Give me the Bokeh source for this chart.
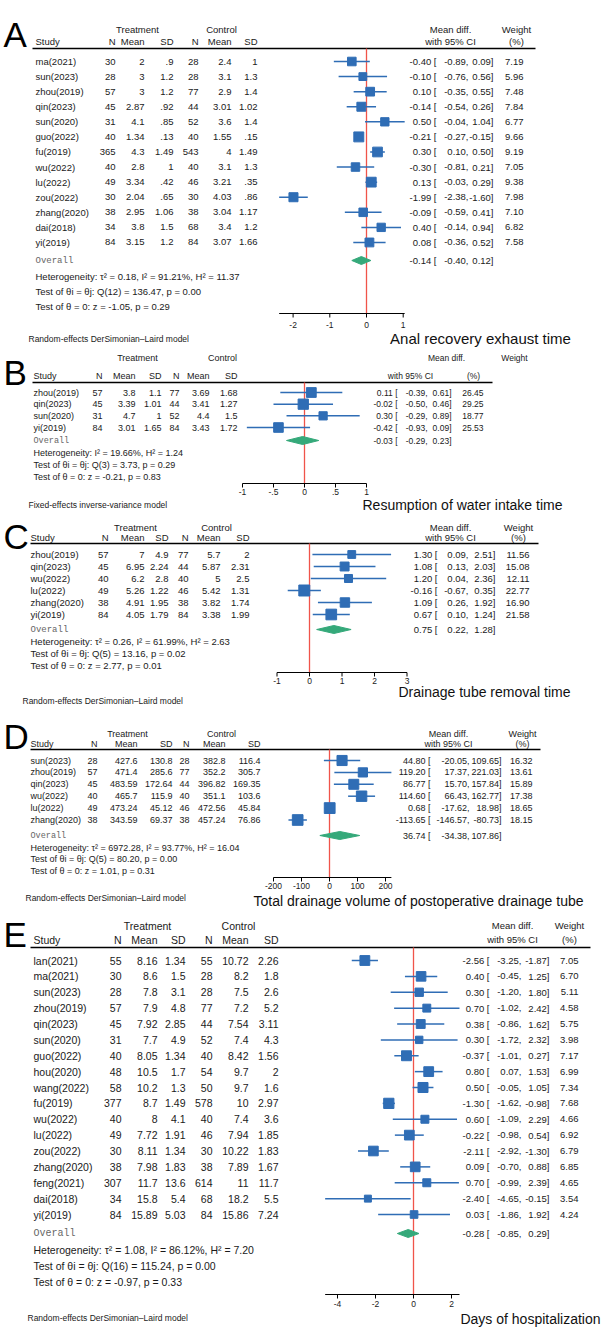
import math
from bokeh.plotting import figure
from bokeh.models import Range1d
from bokeh.embed import file_html
from bokeh.resources import INLINE
from bokeh.core.properties import value

W, H = 601, 1328
FONT = "Liberation Sans"
BLUE = "#2f6db5"
GREEN = "#35a97a"
RED = "#f0544a"
INK = "#1a1a1a"

# ---------------- Panel A: Anal recovery exhaust time ----------------
A_study = ["ma(2021)", "sun(2023)", "zhou(2019)", "qin(2023)", "sun(2020)", "guo(2022)", "fu(2019)",
           "wu(2022)", "lu(2022)", "zou(2022)", "zhang(2020)", "dai(2018)", "yi(2019)"]
A_tn = [30, 28, 57, 45, 31, 40, 365, 40, 49, 30, 38, 34, 84]
A_tm = [2, 3, 3, 2.87, 4.1, 1.34, 4.3, 2.8, 3.34, 2.04, 2.95, 3.8, 3.15]
A_ts = [0.9, 1.2, 1.2, 0.92, 0.85, 0.13, 1.49, 1, 0.42, 0.65, 1.06, 1.5, 1.2]
A_cn = [28, 28, 77, 44, 52, 40, 543, 40, 46, 30, 38, 68, 84]
A_cm = [2.4, 3.1, 2.9, 3.01, 3.6, 1.55, 4, 3.1, 3.21, 4.03, 3.04, 3.4, 3.07]
A_cs = [1, 1.3, 1.4, 1.02, 1.4, 0.15, 1.49, 1.3, 0.35, 0.86, 1.17, 1.2, 1.66]
A_md = [-0.40, -0.10, 0.10, -0.14, 0.50, -0.21, 0.30, -0.30, 0.13, -1.99, -0.09, 0.40, 0.08]
A_lo = [-0.89, -0.76, -0.35, -0.54, -0.04, -0.27, 0.10, -0.81, -0.03, -2.38, -0.59, -0.14, -0.36]
A_hi = [0.09, 0.56, 0.55, 0.26, 1.04, -0.15, 0.50, 0.21, 0.29, -1.60, 0.41, 0.94, 0.52]
A_wt = [7.19, 5.96, 7.48, 7.84, 6.77, 9.66, 9.19, 7.05, 9.38, 7.98, 7.10, 6.82, 7.58]
A_overall = [-0.14, -0.40, 0.12]
A_stats = dict(tau2=0.18, i2=91.21, h2=11.37, df=12, q=136.47, qp=0.00, z=-1.05, zp=0.29)
A_ticks = [-2, -1, 0, 1]

# ---------------- Panel B: Resumption of water intake time ----------------
B_study = ["zhou(2019)", "qin(2023)", "sun(2020)", "yi(2019)"]
B_tn = [57, 45, 31, 84]
B_tm = [3.8, 3.39, 4.7, 3.01]
B_ts = [1.1, 1.01, 1, 1.65]
B_cn = [77, 44, 52, 84]
B_cm = [3.69, 3.41, 4.4, 3.43]
B_cs = [1.68, 1.27, 1.5, 1.72]
B_md = [0.11, -0.02, 0.30, -0.42]
B_lo = [-0.39, -0.50, -0.29, -0.93]
B_hi = [0.61, 0.46, 0.89, 0.09]
B_wt = [26.45, 29.25, 18.77, 25.53]
B_overall = [-0.03, -0.29, 0.23]
B_stats = dict(tau2=None, i2=19.66, h2=1.24, df=3, q=3.73, qp=0.29, z=-0.21, zp=0.83)
B_ticks = [-1, -0.5, 0, 0.5, 1]

# ---------------- Panel C: Drainage tube removal time ----------------
C_study = ["zhou(2019)", "qin(2023)", "wu(2022)", "lu(2022)", "zhang(2020)", "yi(2019)"]
C_tn = [57, 45, 40, 49, 38, 84]
C_tm = [7, 6.95, 6.2, 5.26, 4.91, 4.05]
C_ts = [4.9, 2.24, 2.8, 1.22, 1.95, 1.79]
C_cn = [77, 44, 40, 46, 38, 84]
C_cm = [5.7, 5.87, 5, 5.42, 3.82, 3.38]
C_cs = [2, 2.31, 2.5, 1.31, 1.74, 1.99]
C_md = [1.30, 1.08, 1.20, -0.16, 1.09, 0.67]
C_lo = [0.09, 0.13, 0.04, -0.67, 0.26, 0.10]
C_hi = [2.51, 2.03, 2.36, 0.35, 1.92, 1.24]
C_wt = [11.56, 15.08, 12.11, 22.77, 16.90, 21.58]
C_overall = [0.75, 0.22, 1.28]
C_stats = dict(tau2=0.26, i2=61.99, h2=2.63, df=5, q=13.16, qp=0.02, z=2.77, zp=0.01)
C_ticks = [-1, 0, 1, 2, 3]

# ---------------- Panel D: Total drainage volume ----------------
D_study = ["sun(2023)", "zhou(2019)", "qin(2023)", "wu(2022)", "lu(2022)", "zhang(2020)"]
D_tn = [28, 57, 45, 40, 49, 38]
D_tm = [427.6, 471.4, 483.59, 465.7, 473.24, 343.59]
D_ts = [130.8, 285.6, 172.64, 115.9, 45.12, 69.37]
D_cn = [28, 77, 44, 40, 46, 38]
D_cm = [382.8, 352.2, 396.82, 351.1, 472.56, 457.24]
D_cs = [116.4, 305.7, 169.35, 103.6, 45.84, 76.86]
D_md = [44.80, 119.20, 86.77, 114.60, 0.68, -113.65]
D_lo = [-20.05, 17.37, 15.70, 66.43, -17.62, -146.57]
D_hi = [109.65, 221.03, 157.84, 162.77, 18.98, -80.73]
D_wt = [16.32, 13.61, 15.89, 17.38, 18.65, 18.15]
D_overall = [36.74, -34.38, 107.86]
D_stats = dict(tau2=6972.28, i2=93.77, h2=16.04, df=5, q=80.20, qp=0.00, z=1.01, zp=0.31)
D_ticks = [-200, -100, 0, 100, 200]

# ---------------- Panel E: Days of hospitalization ----------------
E_study = ["lan(2021)", "ma(2021)", "sun(2023)", "zhou(2019)", "qin(2023)", "sun(2020)", "guo(2022)",
           "hou(2020)", "wang(2022)", "fu(2019)", "wu(2022)", "lu(2022)", "zou(2022)", "zhang(2020)",
           "feng(2021)", "dai(2018)", "yi(2019)"]
E_tn = [55, 30, 28, 57, 45, 31, 40, 48, 58, 377, 40, 49, 30, 38, 307, 34, 84]
E_tm = [8.16, 8.6, 7.8, 7.9, 7.92, 7.7, 8.05, 10.5, 10.2, 8.7, 8, 7.72, 8.11, 7.98, 11.7, 15.8, 15.89]
E_ts = [1.34, 1.5, 3.1, 4.8, 2.85, 4.9, 1.34, 1.7, 1.3, 1.49, 4.1, 1.91, 1.34, 1.83, 13.6, 5.4, 5.03]
E_cn = [55, 28, 28, 77, 44, 52, 40, 54, 50, 578, 40, 46, 30, 38, 614, 68, 84]
E_cm = [10.72, 8.2, 7.5, 7.2, 7.54, 7.4, 8.42, 9.7, 9.7, 10, 7.4, 7.94, 10.22, 7.89, 11, 18.2, 15.86]
E_cs = [2.26, 1.8, 2.6, 5.2, 3.11, 4.3, 1.56, 2, 1.6, 2.97, 3.6, 1.85, 1.83, 1.67, 11.7, 5.5, 7.24]
E_md = [-2.56, 0.40, 0.30, 0.70, 0.38, 0.30, -0.37, 0.80, 0.50, -1.30, 0.60, -0.22, -2.11, 0.09, 0.70, -2.40, 0.03]
E_lo = [-3.25, -0.45, -1.20, -1.02, -0.86, -1.72, -1.01, 0.07, -0.05, -1.62, -1.09, -0.98, -2.92, -0.70, -0.99, -4.65, -1.86]
E_hi = [-1.87, 1.25, 1.80, 2.42, 1.62, 2.32, 0.27, 1.53, 1.05, -0.98, 2.29, 0.54, -1.30, 0.88, 2.39, -0.15, 1.92]
E_wt = [7.05, 6.70, 5.11, 4.58, 5.75, 3.98, 7.17, 6.99, 7.34, 7.68, 4.66, 6.92, 6.79, 6.85, 4.65, 3.54, 4.24]
E_overall = [-0.28, -0.85, 0.29]
E_stats = dict(tau2=1.08, i2=86.12, h2=7.20, df=16, q=115.24, qp=0.00, z=-0.97, zp=0.33)
E_ticks = [-4, -2, 0, 2]

RE = "Random-effects DerSimonian\u2013Laird model"
FE = "Fixed-effects inverse-variance model"

PANELS = [
    dict(key="A", study=A_study, tn=A_tn, tm=A_tm, ts=A_ts, cn=A_cn, cm=A_cm, cs=A_cs,
         md=A_md, lo=A_lo, hi=A_hi, wt=A_wt, ov=A_overall, st=A_stats, ticks=A_ticks,
         title="Anal recovery exhaust time", model=RE,
         L=dict(letter_y=34, h1=29, h2=41, hl=48, hlx=(32, 535), y0=61, dy=15.08, ovy=260,
                het=(276, 291, 306), ax=313, tl=321, my=338, mx=28, ty=338, tx=480, tfs=15,
                sx=35, cols=(115, 144, 173, 198, 231, 257), trt=137, ctl=221,
                x0=366, ppu=36.7, ci=(436, 468, 493), wx=523, mdc=450, mdc2=450, wc=516, wc2=516,
                fs=9.5, cfs=9.5, k=3.2)),
    dict(key="B", study=B_study, tn=B_tn, tm=B_tm, ts=B_ts, cn=B_cn, cm=B_cm, cs=B_cs,
         md=B_md, lo=B_lo, hi=B_hi, wt=B_wt, ov=B_overall, st=B_stats, ticks=B_ticks,
         title="Resumption of water intake time", model=FE,
         L=dict(letter_y=372, h1=357, h2=375, hl=382, hlx=(32, 492), y0=392, dy=11.67, ovy=440,
                het=(452, 464, 476), ax=483, tl=488, my=504, mx=28, ty=504, tx=462, tfs=14,
                sx=33, cols=(102, 135, 161, 179, 209, 237), trt=137, ctl=222,
                x0=304, ppu=62.0, ci=(397, 427, 451), wx=483, mdc=446, mdc2=410, wc=514, wc2=473,
                fs=9, cfs=8.5, k=1.9)),
    dict(key="C", study=C_study, tn=C_tn, tm=C_tm, ts=C_ts, cn=C_cn, cm=C_cm, cs=C_cs,
         md=C_md, lo=C_lo, hi=C_hi, wt=C_wt, ov=C_overall, st=C_stats, ticks=C_ticks,
         title="Drainage tube removal time", model=RE,
         L=dict(letter_y=536, h1=527, h2=537, hl=543, hlx=(30, 538), y0=554, dy=12.0, ovy=629,
                het=(641, 653, 665), ax=672, tl=677, my=700, mx=22, ty=691, tx=484, tfs=14,
                sx=30, cols=(108, 144, 168, 188, 220, 249), trt=135, ctl=216,
                x0=309, ppu=32.5, ci=(437, 468, 495), wx=529, mdc=450, mdc2=450, wc=518, wc2=518,
                fs=9.5, cfs=9.5, k=2.3)),
    dict(key="D", study=D_study, tn=D_tn, tm=D_tm, ts=D_ts, cn=D_cn, cm=D_cm, cs=D_cs,
         md=D_md, lo=D_lo, hi=D_hi, wt=D_wt, ov=D_overall, st=D_stats, ticks=D_ticks,
         title="Total drainage volume of postoperative drainage tube", model=RE,
         L=dict(letter_y=736, h1=733, h2=743, hl=749, hlx=(30, 540), y0=760, dy=11.9, ovy=835,
                het=(847, 858.5, 870), ax=877, tl=882, my=897, mx=25, ty=900, tx=418, tfs=14,
                sx=30, cols=(97, 137, 172, 189, 225, 260), trt=127, ctl=221,
                x0=329, ppu=0.28, ci=(430, 469, 501), wx=532, mdc=448, mdc2=448, wc=522, wc2=522,
                fs=9, cfs=9, k=2.5)),
    dict(key="E", study=E_study, tn=E_tn, tm=E_tm, ts=E_ts, cn=E_cn, cm=E_cm, cs=E_cs,
         md=E_md, lo=E_lo, hi=E_hi, wt=E_wt, ov=E_overall, st=E_stats, ticks=E_ticks,
         title="Days of hospitalization", model=RE,
         L=dict(letter_y=934, h1=925, h2=939, hl=947, hlx=(30, 590), y0=960, dy=15.875, ovy=1233,
                het=(1249, 1265, 1281), ax=1294, tl=1300, my=1317, mx=27, ty=1318, tx=530, tfs=14,
                sx=33, cols=(121, 157, 185, 212, 248, 278), trt=147, ctl=238,
                x0=413, ppu=19.0, ci=(489, 521, 549), wx=578, mdc=512, mdc2=512, wc=569, wc2=569,
                fs=10.5, cfs=9.5, k=3.7)),
]


def fmt(v):
    s = f"{v:g}"
    if s.startswith("0."):
        s = s[1:]
    elif s.startswith("-0."):
        s = "-" + s[2:]
    return s


p = figure(width=W, height=H, x_range=Range1d(0, W), y_range=Range1d(H, 0),
           x_axis_type=None, y_axis_type=None, toolbar_location=None,
           output_backend="svg", min_border=0, outline_line_color=None,
           background_fill_color="white", border_fill_color="white")
p.grid.visible = False


def txt(xs, ys, texts, size, align="left", xr="default", yr="default",
        font=FONT, color=INK, baseline="middle"):
    p.text(x=xs, y=ys, text=texts, x_range_name=xr, y_range_name=yr,
           text_font=value(font), text_font_size=f"{size}px", text_align=align,
           text_baseline=baseline, text_color=color)


for P in PANELS:
    L = P["L"]
    k = P["key"]
    fx, fy = "fx" + k, "fy" + k
    p.extra_x_ranges[fx] = Range1d(start=-L["x0"] / L["ppu"], end=(W - L["x0"]) / L["ppu"])
    p.extra_y_ranges[fy] = Range1d(start=(H - L["y0"]) / L["dy"], end=-L["y0"] / L["dy"])
    n = len(P["study"])
    idx = list(range(n))
    fs = L["fs"]
    cfs = L["cfs"]

    # panel letter
    txt([3], [L["letter_y"]], [k], 35, baseline="alphabetic", color="#000")

    # headers
    txt([L["trt"], L["ctl"]], [L["h1"]] * 2, ["Treatment", "Control"], fs, align="center")
    txt([L["sx"]], [L["h2"]], ["Study"], fs)
    txt(list(L["cols"]), [L["h2"]] * 6, ["N", "Mean", "SD", "N", "Mean", "SD"], fs, align="right")
    txt([L["mdc"]], [L["h1"]], ["Mean diff."], cfs, align="center")
    txt([L["mdc2"]], [L["h2"]], ["with 95% CI"], cfs, align="center")
    txt([L["wc"]], [L["h1"]], ["Weight"], cfs, align="center")
    txt([L["wc2"]], [L["h2"]], ["(%)"], cfs, align="center")
    p.segment(x0=[L["hlx"][0]], x1=[L["hlx"][1]], y0=[L["hl"]], y1=[L["hl"]],
              line_color="#000", line_width=1.6)

    # table rows
    txt([L["sx"]] * n, idx, P["study"], fs, yr=fy)
    for c, key in zip(L["cols"], ["tn", "tm", "ts", "cn", "cm", "cs"]):
        txt([c] * n, idx, [fmt(v) for v in P[key]], fs, align="right", yr=fy)

    # CI text columns
    txt([L["ci"][0]] * n, idx, [f"{v:.2f} [" for v in P["md"]], cfs, align="right", yr=fy)
    txt([L["ci"][1]] * n, idx, [f"{v:.2f}," for v in P["lo"]], cfs, align="right", yr=fy)
    txt([L["ci"][2]] * n, idx, [f"{v:.2f}]" for v in P["hi"]], cfs, align="right", yr=fy)
    txt([L["wx"]] * n, idx, [f"{v:.2f}" for v in P["wt"]], cfs, align="right", yr=fy)

    # overall row
    om, olo, ohi = P["ov"]
    txt([L["sx"]], [L["ovy"]], ["Overall"], fs - 0.5, font="Liberation Mono", color="#666")
    txt([L["ci"][0]], [L["ovy"]], [f"{om:.2f} ["], cfs, align="right")
    txt([L["ci"][1]], [L["ovy"]], [f"{olo:.2f},"], cfs, align="right")
    txt([L["ci"][2]], [L["ovy"]], [f"{ohi:.2f}]"], cfs, align="right")

    # heterogeneity / tests
    s = P["st"]
    if s["tau2"] is not None:
        het = f"Heterogeneity: \u03c4\u00b2 = {s['tau2']:.2f}, I\u00b2 = {s['i2']:.2f}%, H\u00b2 = {s['h2']:.2f}"
    else:
        het = f"Heterogeneity: I\u00b2 = {s['i2']:.2f}%, H\u00b2 = {s['h2']:.2f}"
    t1 = f"Test of \u03b8i = \u03b8j: Q({s['df']}) = {s['q']:.2f}, p = {s['qp']:.2f}"
    t2 = f"Test of \u03b8 = 0: z = {s['z']:.2f}, p = {s['zp']:.2f}"
    txt([L["sx"]] * 3, list(L["het"]), [het, t1, t2], fs)

    # model + title
    txt([L["mx"]], [L["my"]], [P["model"]], 8.5)
    txt([L["tx"]], [L["ty"]], [P["title"]], L["tfs"], align="center", color="#111")

    # forest: null line
    p.segment(x0=[0], x1=[0], y0=[L["hl"]], y1=[L["ax"]], x_range_name=fx,
              line_color=RED, line_width=1.3)

    # CI lines and squares
    p.segment(x0=P["lo"], x1=P["hi"], y0=idx, y1=idx, x_range_name=fx, y_range_name=fy,
              line_color=BLUE, line_width=1.5)
    sizes = [L["k"] * math.sqrt(w) for w in P["wt"]]
    p.scatter(x=P["md"], y=idx, size=sizes, marker="square", x_range_name=fx, y_range_name=fy,
              fill_color=BLUE, line_color=BLUE)

    # overall diamond
    yo = L["ovy"]
    p.patch(x=[olo, om, ohi, om], y=[yo, yo - 4, yo, yo + 4], x_range_name=fx,
            fill_color=GREEN, line_color=GREEN)

    # axis
    ticks = P["ticks"]
    a0 = min(min(P["lo"]), min(ticks))
    a1 = max(max(P["hi"]), max(ticks))
    p.segment(x0=[a0], x1=[a1], y0=[L["ax"]], y1=[L["ax"]], x_range_name=fx,
              line_color="#000", line_width=1.1)
    nt = len(ticks)
    p.segment(x0=ticks, x1=ticks, y0=[L["ax"]] * nt, y1=[L["ax"] + 4] * nt, x_range_name=fx,
              line_color="#000", line_width=1)
    txt(ticks, [L["tl"]] * nt, [fmt(t) for t in ticks], 8.5, align="center", xr=fx, baseline="top")

open("out.html", "w").write(file_html(p, INLINE))
